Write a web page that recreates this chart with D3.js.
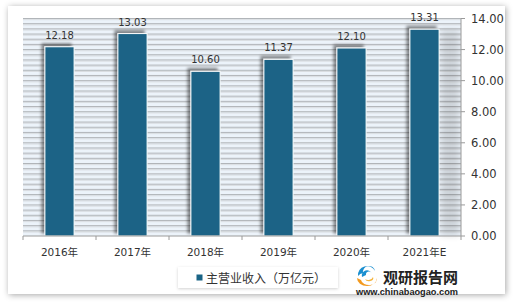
<!DOCTYPE html>
<html><head><meta charset="utf-8">
<script src="https://cdn.jsdelivr.net/npm/d3@7/dist/d3.min.js"></script>
<style>body{margin:0;background:#fff}svg{display:block}</style>
</head><body>
<script>
const categories = ["2016年","2017年","2018年","2019年","2020年","2021年E"];
const values = [12.18, 13.03, 10.60, 11.37, 12.10, 13.31];
const yTicks = [0, 2, 4, 6, 8, 10, 12, 14];
const seriesName = "主营业收入（万亿元）";
const brandName = "观研报告网";
const brandUrl = "www.chinabaogao.com";

const W = 517, H = 305;
const svg = d3.select("body").append("svg").attr("width", W).attr("height", H);
const defs = svg.append("defs");
const f1 = defs.append("filter").attr("id","frameShadow").attr("x","-5%").attr("y","-5%").attr("width","110%").attr("height","110%");
f1.append("feDropShadow").attr("dx",1).attr("dy",1).attr("stdDeviation",3).attr("flood-color","#000").attr("flood-opacity",0.35);
const f2 = defs.append("filter").attr("id","barShadow").attr("x","-50%").attr("y","-20%").attr("width","200%").attr("height","140%");
f2.append("feDropShadow").attr("dx",-3).attr("dy",-3).attr("stdDeviation",1.8).attr("flood-color","#000").attr("flood-opacity",0.45);
const f3 = defs.append("filter").attr("id","blur3").append("feGaussianBlur").attr("stdDeviation",3);
const f4 = defs.append("filter").attr("id","legShadow").attr("x","-10%").attr("y","-30%").attr("width","120%").attr("height","160%");
f4.append("feDropShadow").attr("dx",0).attr("dy",1).attr("stdDeviation",1.5).attr("flood-color","#000").attr("flood-opacity",0.18);

// frame
svg.append("rect").attr("x",8).attr("y",6).attr("width",497).attr("height",288)
  .attr("fill","#fff").attr("filter","url(#frameShadow)");

const x0 = 23, x1 = 461, yTop = 18.5, yBot = 236;
const x = d3.scaleBand().domain(categories).range([x0, x1]).paddingInner(0.6).paddingOuter(0.3);
const y = d3.scaleLinear().domain([0, 14]).range([yBot, yTop]);

// plot background
svg.append("rect").attr("x",x0).attr("y",yTop).attr("width",x1-x0).attr("height",yBot-yTop).attr("fill","#ecf3fa");

// minor gridlines every 1/3
const grid = d3.range(1, 43).map(i => i * 14 / 42);
const gg = svg.append("g");
gg.selectAll("line.s").data(grid).join("line")
  .attr("x1",x0).attr("x2",x1).attr("y1",d=>y(d)+1.2).attr("y2",d=>y(d)+1.2)
  .attr("stroke","#d9dde1").attr("stroke-width",1);
gg.selectAll("line.g").data(grid).join("line")
  .attr("x1",x0).attr("x2",x1).attr("y1",d=>y(d)).attr("y2",d=>y(d))
  .attr("stroke","#b1b5b9").attr("stroke-width",1);

// gray shade near right axis
svg.append("rect").attr("x",441).attr("y",30).attr("width",18).attr("height",yBot-30)
  .attr("fill","#000").attr("opacity",0.12).attr("filter","url(#blur3)");

// bars
svg.append("g").selectAll("rect").data(values).join("rect")
  .attr("x",(d,i)=>x(categories[i])).attr("y",d=>y(d))
  .attr("width",x.bandwidth()).attr("height",d=>yBot-y(d))
  .attr("fill","#1a6486").attr("stroke","#fff").attr("stroke-width",1)
  .attr("filter","url(#barShadow)");

// data labels
svg.append("g").selectAll("text").data(values).join("text")
  .attr("x",(d,i)=>x(categories[i])+x.bandwidth()/2).attr("y",d=>y(d)-8)
  .attr("text-anchor","middle").attr("font-family","DejaVu Sans, sans-serif").attr("font-size",10)
  .attr("fill","#333").text(d=>d.toFixed(2));

// x axis
svg.append("line").attr("x1",x0).attr("x2",x1).attr("y1",yBot).attr("y2",yBot).attr("stroke","#9a9a9a");
const bounds = categories.map(c => x(c) - x.step()*x.paddingInner()/2).concat([x1]);
bounds[0] = x0;
svg.append("g").selectAll("line").data(bounds).join("line")
  .attr("x1",d=>d).attr("x2",d=>d).attr("y1",yBot).attr("y2",yBot+4).attr("stroke","#9a9a9a");
svg.append("g").selectAll("text").data(categories).join("text")
  .attr("x",d=>x(d)+x.bandwidth()/2).attr("y",256)
  .attr("text-anchor","middle").attr("font-family","DejaVu Sans, 'Noto Sans CJK SC', sans-serif").attr("font-size",10.5)
  .attr("fill","#333").text(d=>d);

// y axis (right)
svg.append("line").attr("x1",x1).attr("x2",x1).attr("y1",yTop).attr("y2",yBot).attr("stroke","#9a9a9a");
svg.append("g").selectAll("line").data(yTicks).join("line")
  .attr("x1",x1).attr("x2",x1+4).attr("y1",d=>y(d)).attr("y2",d=>y(d)).attr("stroke","#9a9a9a");
svg.append("g").selectAll("text").data(yTicks).join("text")
  .attr("x",471).attr("y",d=>y(d)+4.3)
  .attr("font-family","DejaVu Sans, sans-serif").attr("font-size",11.5)
  .attr("fill","#333").text(d=>d.toFixed(2));

// legend
svg.append("rect").attr("x",178).attr("y",267).attr("width",160).attr("height",21)
  .attr("fill","#fff").attr("filter","url(#legShadow)");
svg.append("rect").attr("x",196.5).attr("y",274.5).attr("width",6).attr("height",6).attr("fill","#1a6486");
svg.append("text").attr("x",206).attr("y",282.5).attr("font-family","'Noto Sans CJK SC', sans-serif")
  .attr("font-size",12).attr("fill","#333").text(seriesName);

// brand logo
const lg = svg.append("g").attr("transform","translate(367,275)");
lg.append("path").attr("d","M-9,1 A9,9 0 0 1 8,-4 A6,6 0 0 0 -4,-2 A7,7 0 0 0 -9,1 Z").attr("fill","#1b8fd0");
lg.append("path").attr("d","M-5,2 A5,5 0 0 1 5,-1 A3,3 0 0 0 -1,0 Z").attr("fill","#1b8fd0");
lg.append("path").attr("d","M-10,3 A10,8 0 0 0 10,3 A8,6 0 0 1 -6,5 Z").attr("fill","#f39a1e");
lg.append("path").attr("d","M-2,4 A4,3 0 0 0 6,2 A5,4 0 0 1 -2,4 Z").attr("fill","#f5b43c");
svg.append("text").attr("x",383).attr("y",283).attr("font-family","'Noto Sans CJK SC', sans-serif")
  .attr("font-weight","bold").attr("font-size",15).attr("fill","#222").text(brandName);
svg.append("text").attr("x",356).attr("y",295).attr("font-family","'Liberation Sans', Arial, sans-serif")
  .attr("font-weight","bold").attr("font-size",9.5).attr("textLength",102).attr("lengthAdjust","spacingAndGlyphs")
  .attr("fill","#222").text(brandUrl);
</script>
</body></html>
